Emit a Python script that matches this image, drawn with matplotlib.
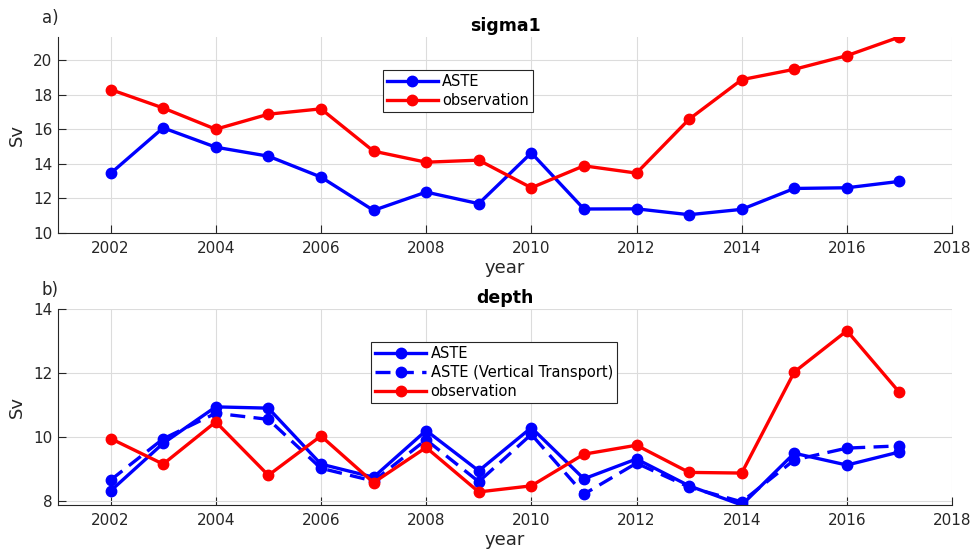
import numpy as np
import matplotlib.pyplot as plt

# Transport time series, 2002-2017 (Sv)
years = np.arange(2002, 2018)

sigma1_aste = [13.45, 16.09, 14.97, 14.45, 13.24, 11.31, 12.37, 11.70,
               14.64, 11.39, 11.40, 11.06, 11.37, 12.58, 12.62, 12.99]
sigma1_obs = [18.31, 17.24, 16.01, 16.88, 17.19, 14.74, 14.10, 14.22,
              12.62, 13.89, 13.47, 16.59, 18.88, 19.48, 20.27, 21.35]

depth_aste = [8.31, 9.80, 10.94, 10.90, 9.15, 8.74, 10.20, 8.94,
              10.29, 8.69, 9.31, 8.47, 7.87, 9.49, 9.12, 9.53]
depth_aste_vt = [8.65, 9.94, 10.74, 10.55, 9.02, 8.62, 9.91, 8.60,
                 10.08, 8.21, 9.18, 8.43, 7.97, 9.28, 9.65, 9.72]
depth_obs = [9.95, 9.15, 10.47, 8.80, 10.03, 8.57, 9.67, 8.28,
             8.47, 9.46, 9.74, 8.89, 8.87, 12.03, 13.32, 11.39]

AX_COLOR = "#262626"
plt.rcParams["font.family"] = ["DejaVu Sans"]

fig = plt.figure(figsize=(9.74, 5.54), dpi=100)
ax_a = fig.add_axes([0.0595, 0.5794, 0.918, 0.3538])
ax_b = fig.add_axes([0.0595, 0.0884, 0.918, 0.3538])

line_kw = dict(linewidth=2.4, marker="o", markersize=7.5)
leg_kw = dict(loc="upper left", handlelength=3.5, fontsize=10.5, borderpad=0.3,
              labelspacing=0.25, handletextpad=0.3, borderaxespad=0)

ax_a.plot(years, sigma1_aste, color="#0000ff", label="ASTE", **line_kw)
ax_a.plot(years, sigma1_obs, color="#ff0000", label="observation", **line_kw)
ax_a.set_ylim(10, max(sigma1_obs))
ax_a.set_yticks([10, 12, 14, 16, 18, 20])
ax_a.set_title("sigma1", fontsize=12.5, fontweight="bold", pad=4)
ax_a.legend(bbox_to_anchor=(0.363, 0.832), **leg_kw)

ax_b.plot(years, depth_aste, color="#0000ff", label="ASTE", **line_kw)
ax_b.plot(years, depth_aste_vt, color="#0000ff", linestyle=(0, (4.5, 2.5)),
          label="ASTE (Vertical Transport)", **line_kw)
ax_b.plot(years, depth_obs, color="#ff0000", label="observation", **line_kw)
ax_b.set_ylim(min(depth_aste), 14)
ax_b.set_yticks([8, 10, 12, 14])
ax_b.set_title("depth", fontsize=12.5, fontweight="bold", pad=4)
ax_b.legend(bbox_to_anchor=(0.350, 0.832), **leg_kw)

for ax, tag in [(ax_a, "a)"), (ax_b, "b)")]:
    ax.set_xlim(2001, 2018)
    ax.set_xticks(np.arange(2002, 2019, 2))
    ax.set_xlabel("year", fontsize=13, color=AX_COLOR, labelpad=2)
    ax.set_ylabel("Sv", fontsize=13, color=AX_COLOR, labelpad=5)
    ax.grid(True, color="#dcdcdc", linewidth=0.8)
    ax.set_axisbelow(True)
    for side in ["top", "right"]:
        ax.spines[side].set_visible(False)
    for side in ["left", "bottom"]:
        ax.spines[side].set_color(AX_COLOR)
        ax.spines[side].set_linewidth(0.8)
    ax.tick_params(direction="in", labelsize=11, colors=AX_COLOR, length=6)
    ax.tick_params(axis="x", pad=6)
    ax.tick_params(axis="y", pad=4)
    leg = ax.get_legend()
    leg.get_frame().set_edgecolor(AX_COLOR)
    leg.get_frame().set_boxstyle("square", pad=0)
    leg.get_frame().set_linewidth(0.8)
    leg.get_frame().set_alpha(1)
    ax.text(-0.018, 1.097, tag, transform=ax.transAxes, fontsize=12,
            color=AX_COLOR, ha="left", va="center")

fig.savefig("out.png", dpi=100)
